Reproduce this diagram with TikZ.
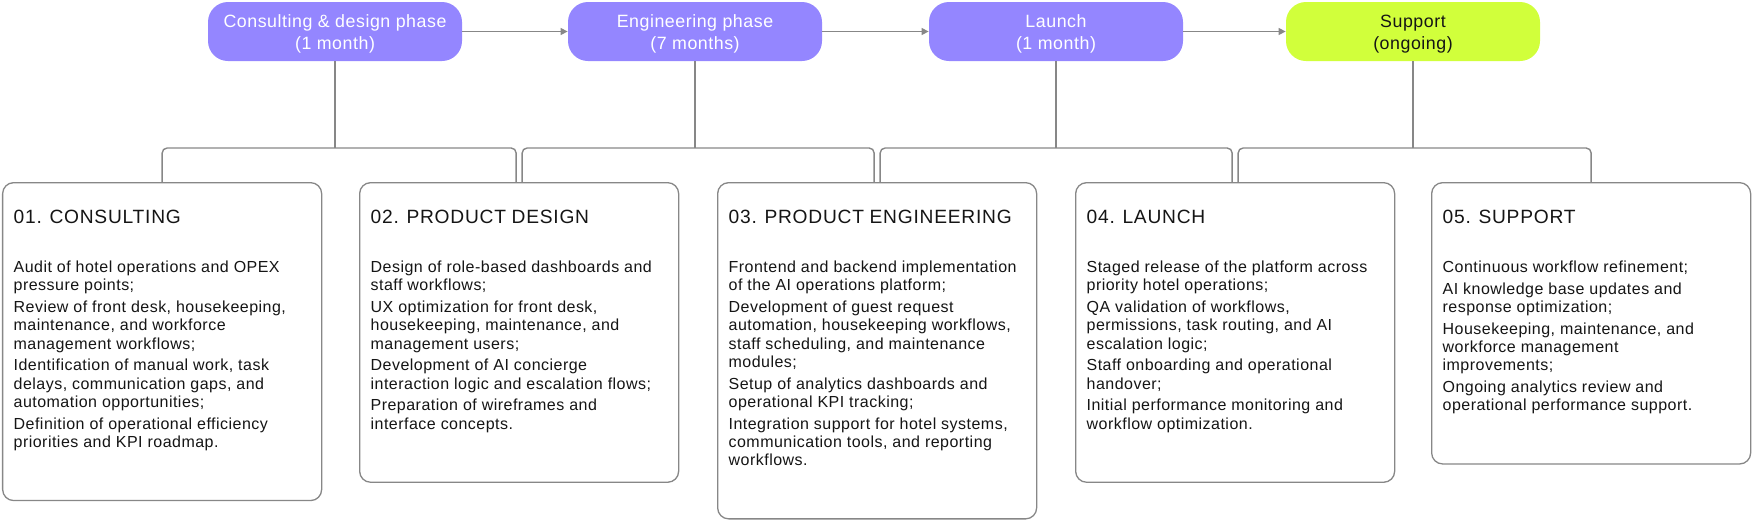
\documentclass[tikz,border=0pt]{standalone}
\usepackage{fontspec}
\setmainfont{Liberation Sans}
\newfontfamily\bodyf[LetterSpace=3]{Liberation Sans}
\newfontfamily\headf[LetterSpace=4,WordSpace=0.92]{Liberation Sans}
\newfontfamily\phasef[LetterSpace=3]{Liberation Sans}
\usetikzlibrary{arrows.meta}
\definecolor{phasepurple}{HTML}{9486FF}
\definecolor{phaselime}{HTML}{D1FF3B}
\definecolor{linec}{HTML}{878787}
\definecolor{inkc}{HTML}{151515}
\newcommand{\cardcontent}[2]{%
\begin{minipage}[t]{148.5pt}\raggedright
\setlength{\parindent}{0pt}\setlength{\parskip}{1.7pt}%
{\headf\fontsize{9.6}{11}\selectfont\rule{0pt}{20.35pt}#1\par}%
\bodyf\fontsize{8}{9.15}\selectfont
\vspace{13.8pt}%
#2\rule[-26.5pt]{0pt}{26.5pt}\par
\end{minipage}}
\newcommand{\phtxt}[2]{\rule{0pt}{8.65pt}#1\\#2\rule[-2pt]{0pt}{2pt}}
\tikzset{
  phase/.style={rounded corners=10pt, minimum width=127pt, minimum height=29.5pt,
    inner sep=0pt, align=center, font=\phasef\fontsize{8.9}{11.15}\selectfont},
  phasep/.style={phase, fill=phasepurple, text=white},
  phasel/.style={phase, fill=phaselime, text=inkc},
  card/.style={draw=linec, line width=0.65pt, rounded corners=5.5pt, fill=white,
    inner xsep=5.5pt, inner ysep=0pt, anchor=north west, text=inkc},
  conn/.style={draw=linec, line width=0.7pt, rounded corners=2.5pt},
  arr/.style={draw=linec, line width=0.7pt, -{Triangle[length=3.5pt,width=3.5pt]}}
}
\begin{document}
\begin{tikzpicture}[x=0.5pt,y=-0.5pt]
\useasboundingbox (0,0) rectangle (1752,521);
% phase boxes
\node[phasep] (p1) at (335,31.5) {\phtxt{Consulting \& design phase}{(1 month)}};
\node[phasep] (p2) at (695,31.5) {\phtxt{Engineering phase}{(7 months)}};
\node[phasep] (p3) at (1056,31.5) {\phtxt{Launch}{(1 month)}};
\node[phasel] (p4) at (1413,31.5) {\phtxt{Support}{(ongoing)}};
\draw[arr] (p1.east) -- (p2.west);
\draw[arr] (p2.east) -- (p3.west);
\draw[arr] (p3.east) -- (p4.west);
% cards
\node[card] (c1) at (2,182) {\cardcontent{01. CONSULTING}{%
Audit of hotel operations and OPEX\\pressure points;\par
Review of front desk, housekeeping,\\maintenance, and workforce\\management workflows;\par
Identification of manual work, task\\delays, communication gaps, and\\automation opportunities;\par
Definition of operational efficiency\\priorities and KPI roadmap.}};
\node[card] (c2) at (359,182) {\cardcontent{02. PRODUCT DESIGN}{%
Design of role-based dashboards and\\staff workflows;\par
UX optimization for front desk,\\housekeeping, maintenance, and\\management users;\par
Development of AI concierge\\interaction logic and escalation flows;\par
Preparation of wireframes and\\interface concepts.}};
\node[card] (c3) at (717,182) {\cardcontent{03. PRODUCT ENGINEERING}{%
Frontend and backend implementation\\of the AI operations platform;\par
Development of guest request\\automation, housekeeping workflows,\\staff scheduling, and maintenance\\modules;\par
Setup of analytics dashboards and\\operational KPI tracking;\par
Integration support for hotel systems,\\communication tools, and reporting\\workflows.}};
\node[card] (c4) at (1075,182) {\cardcontent{04. LAUNCH}{%
Staged release of the platform across\\priority hotel operations;\par
QA validation of workflows,\\permissions, task routing, and AI\\escalation logic;\par
Staff onboarding and operational\\handover;\par
Initial performance monitoring and\\workflow optimization.}};
\node[card] (c5) at (1431,182) {\cardcontent{05. SUPPORT}{%
Continuous workflow refinement;\par
AI knowledge base updates and\\response optimization;\par
Housekeeping, maintenance, and\\workforce management\\improvements;\par
Ongoing analytics review and\\operational performance support.}};
% brackets
\coordinate (m1) at (p1.south |- 0,148);
\coordinate (m2) at (p2.south |- 0,148);
\coordinate (m3) at (p3.south |- 0,148);
\coordinate (m4) at (p4.south |- 0,148);
\draw[conn] (p1.south) -- (m1);
\draw[conn] (p2.south) -- (m2);
\draw[conn] (p3.south) -- (m3);
\draw[conn] (p4.south) -- (m4);
\draw[conn] (c1.north) |- (m1) -| ([xshift=-1.5pt]c2.north);
\draw[conn] ([xshift=1.5pt]c2.north) |- (m2) -| ([xshift=-1.5pt]c3.north);
\draw[conn] ([xshift=1.5pt]c3.north) |- (m3) -| ([xshift=-1.5pt]c4.north);
\draw[conn] ([xshift=1.5pt]c4.north) |- (m4) -| (c5.north);
\end{tikzpicture}
\end{document}
